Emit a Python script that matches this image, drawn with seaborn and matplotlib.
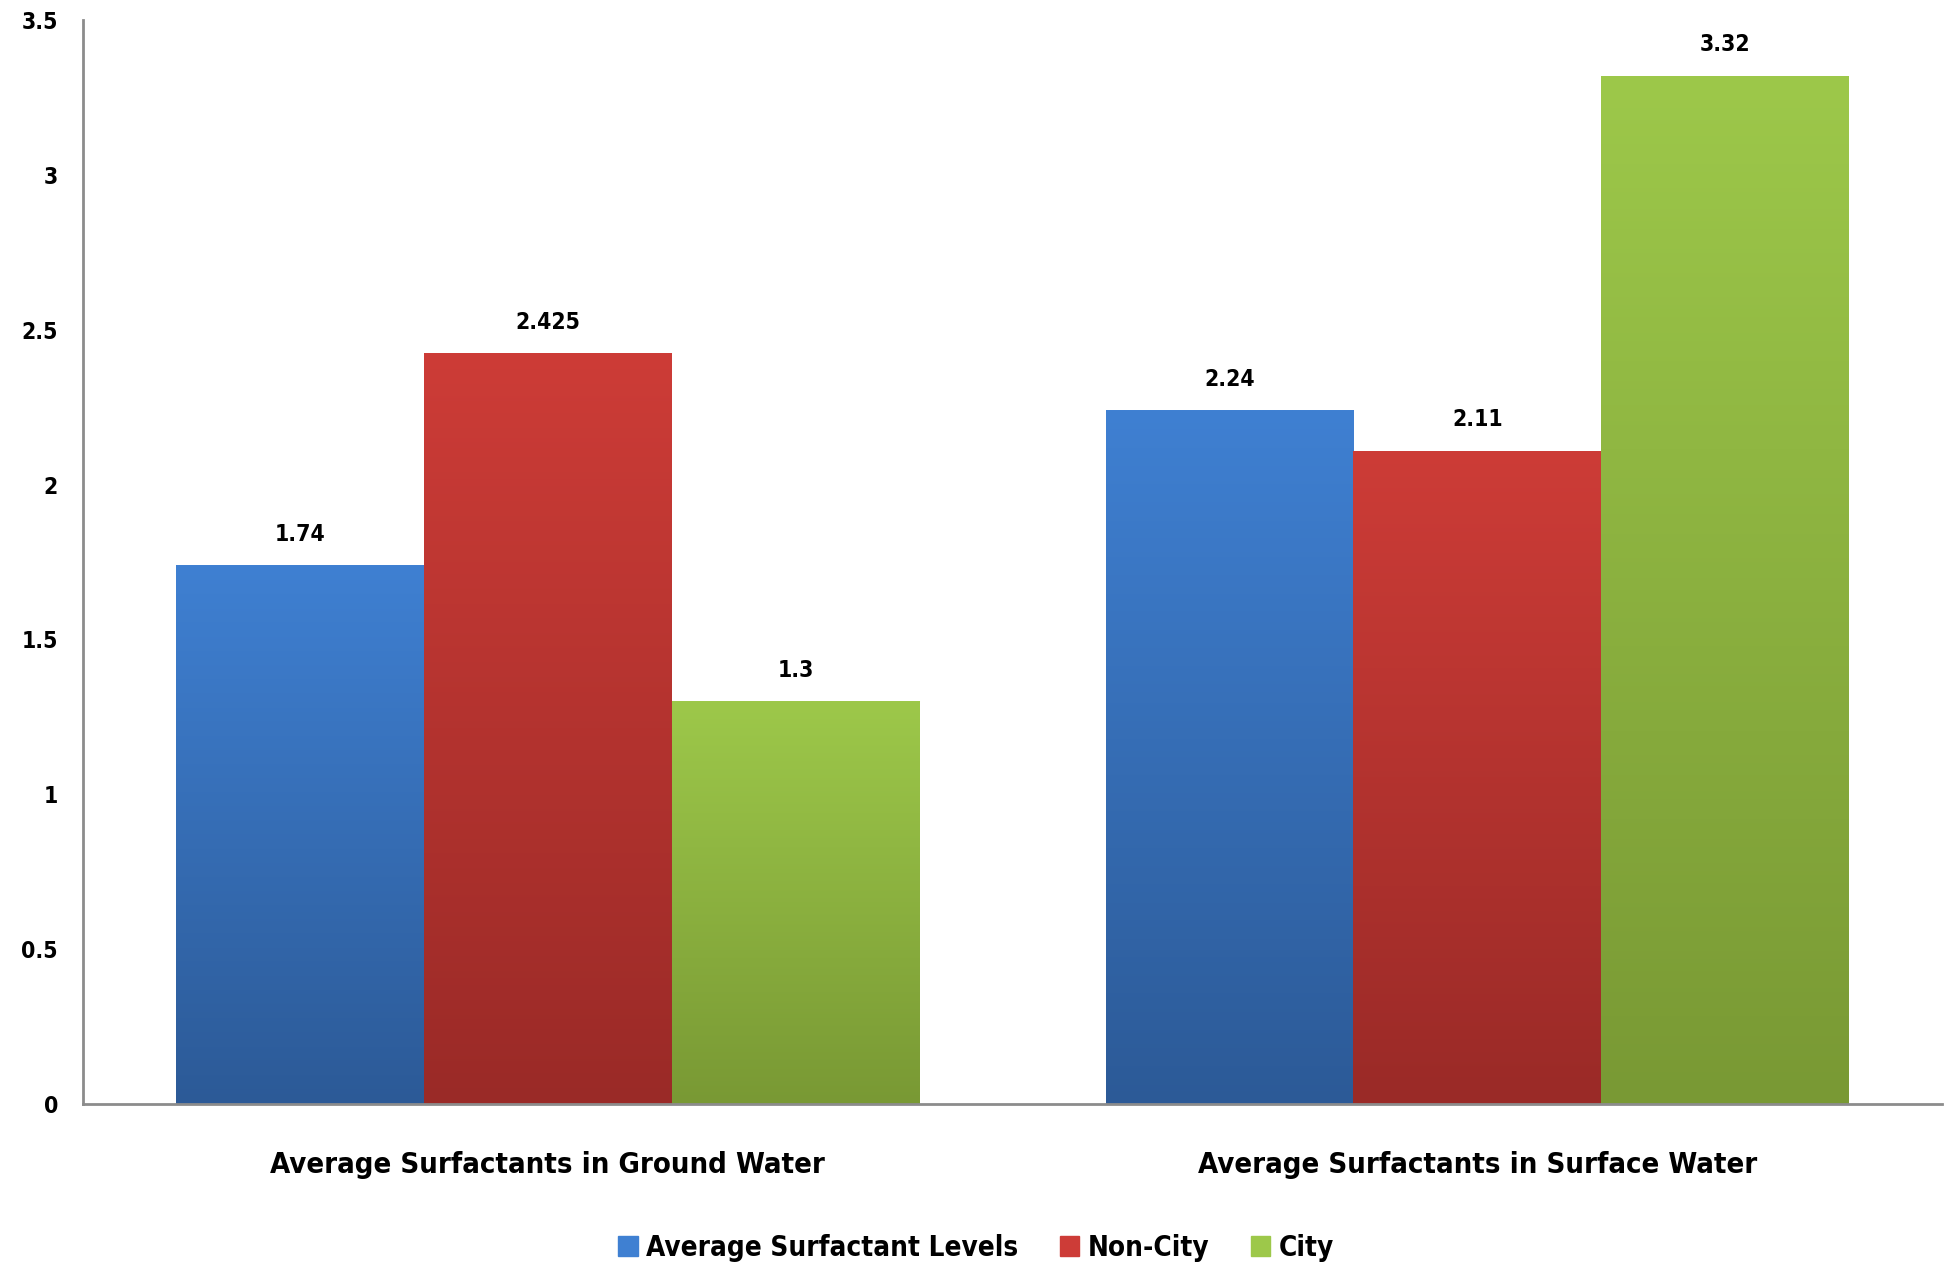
import numpy as np
import pandas as pd
import matplotlib
matplotlib.use('Agg')
import matplotlib.pyplot as plt
from matplotlib.colors import LinearSegmentedColormap
import seaborn as sns

# data
categories = ['Average Surfactants in Ground Water', 'Average Surfactants in Surface Water']
series = ['Average Surfactant Levels', 'Non-City', 'City']
ground_water = [1.74, 2.425, 1.3]
surface_water = [2.24, 2.11, 3.32]

# colours: top (light) and bottom (dark) of each gradient
top_colors = ['#3f80d2', '#cd3c37', '#9dc84a']
bottom_colors = ['#2c5a97', '#9a2a27', '#799934']

rows = []
for cat, vals in zip(categories, [ground_water, surface_water]):
    for s, v in zip(series, vals):
        rows.append({'categoria': cat, 'serie': s, 'valor': v})
df = pd.DataFrame(rows)

sns.set_style('white')
plt.rcParams['font.family'] = ['DejaVu Sans']
plt.rcParams['font.stretch'] = 'condensed'
plt.rcParams['font.weight'] = 'bold'
plt.rcParams['text.color'] = 'black'
plt.rcParams['xtick.color'] = 'black'
plt.rcParams['ytick.color'] = 'black'

fig = plt.figure(figsize=(19.52, 12.63), dpi=100)
ax = fig.add_axes([0.0425, 0.126, 0.9525, 0.858])

sns.barplot(data=df, x='categoria', y='valor', hue='serie', hue_order=series,
            palette=top_colors, saturation=1, width=0.8, ax=ax, legend=False)

# vertical gradient fill on each bar
grad = np.linspace(1, 0, 256).reshape(-1, 1)
for i, cont in enumerate(ax.containers):
    cmap = LinearSegmentedColormap.from_list('g%d' % i, [bottom_colors[i], top_colors[i]])
    for bar in cont:
        x0 = bar.get_x()
        w = bar.get_width()
        h = bar.get_height()
        im = ax.imshow(grad, cmap=cmap, vmin=0, vmax=1, aspect='auto',
                       extent=(x0, x0 + w, 0, h), zorder=bar.get_zorder() + 0.1)
        im.set_clip_path(bar)
    ax.bar_label(cont, fmt='%g', padding=14, fontsize=16.5, fontweight='bold', color='black')

ax.set_xlim(-0.5, 1.5)
ax.set_ylim(0, 3.5)
ax.set_yticks(np.arange(0, 3.51, 0.5))
ax.set_yticklabels(['0', '0.5', '1', '1.5', '2', '2.5', '3', '3.5'])

ax.set_xlabel('')
ax.set_ylabel('')
ax.tick_params(axis='y', labelsize=16.5, length=0, pad=18)
ax.tick_params(axis='x', labelsize=21, length=0, pad=34)
for lab in ax.get_xticklabels() + ax.get_yticklabels():
    lab.set_fontweight('bold')

sns.despine(ax=ax)
for sp in ['left', 'bottom']:
    ax.spines[sp].set_color('#8c8c8c')
    ax.spines[sp].set_linewidth(2)

handles = [plt.Rectangle((0, 0), 1, 1, color=c) for c in top_colors]
leg = fig.legend(handles, series, loc='center', bbox_to_anchor=(0.5, 0.012), ncol=3,
                 frameon=False, fontsize=20, handlelength=0.7, handleheight=0.7,
                 handletextpad=0.3, columnspacing=1.5)
for t in leg.get_texts():
    t.set_fontweight('bold')

fig.savefig('out.png', dpi=100)
